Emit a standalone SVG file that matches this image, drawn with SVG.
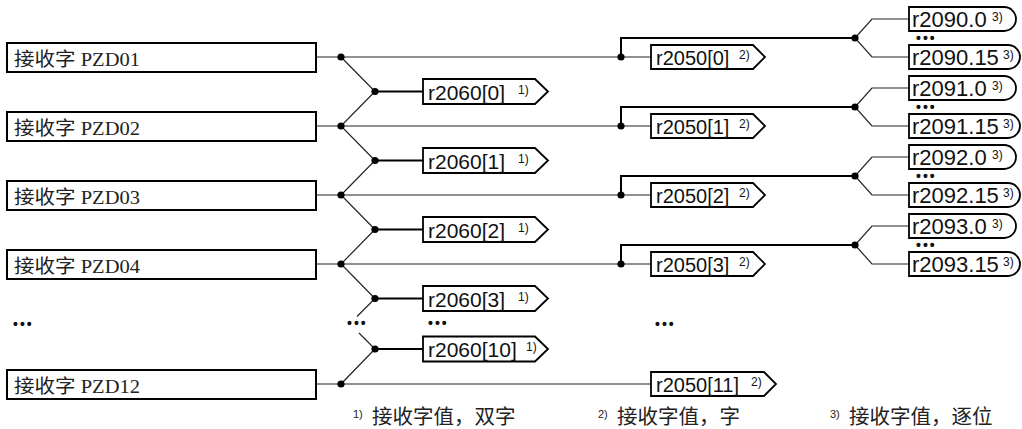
<svg xmlns="http://www.w3.org/2000/svg" width="1022" height="429" viewBox="0 0 1022 429">
<style>
.pzd{fill:#fff;stroke:#000;stroke-width:2}
.pt{font-family:"Liberation Serif","Noto Sans CJK SC",serif;font-size:19px;fill:#222}
.rb{fill:#fff;stroke:#000;stroke-width:1.8}
.rt{font-family:"Liberation Sans",Arial,sans-serif;font-size:21px;fill:#111}
.st{font-family:"Liberation Sans",Arial,sans-serif;font-size:12px;fill:#111}
.thin{fill:none;stroke:#222;stroke-width:1.2}
.thick{fill:none;stroke:#000;stroke-width:2}
.dot{fill:#000}
.el{font-family:"Liberation Sans",Arial,sans-serif;font-size:14px;font-weight:bold;letter-spacing:2px;fill:#111}
.fn{font-family:"Noto Sans CJK SC","Noto Sans",sans-serif;font-size:20.5px;fill:#222}
.fs{font-family:"Liberation Sans",Arial,sans-serif;font-size:11px;fill:#222}
</style>
<g id="connectors">
<path class="thin" d="M316,57 H651 M316,126 H651 M316,195 H651 M316,264 H651 M316,384 H651"/>
<path class="thin" d="M341,57 L375,91.5 L341,126 L375,160.5 L341,195 L375,229.5 L341,264 L375,298.5 L357,316.5 M359,333 L375,349 L341,384"/>
<path class="thick" d="M375,91.5 H423 M375,160.5 H423 M375,229.5 H423 M375,298.5 H423 M375,349 H423"/>
<path class="thick" d="M621,57 V38 H855 M621,126 V107 H855 M621,195 V176 H855 M621,264 V245 H855"/>
<path class="thin" d="M909,19 H872 L855,38 L872,57 H909 M909,88 H872 L855,107 L872,126 H909 M909,157 H872 L855,176 L872,195 H909 M909,226 H872 L855,245 L872,264 H909"/>
<g class="dot">
<circle cx="341" cy="57" r="3.6"/><circle cx="341" cy="126" r="3.6"/><circle cx="341" cy="195" r="3.6"/><circle cx="341" cy="264" r="3.6"/><circle cx="341" cy="384" r="3.6"/>
<circle cx="375" cy="91.5" r="3.6"/><circle cx="375" cy="160.5" r="3.6"/><circle cx="375" cy="229.5" r="3.6"/><circle cx="375" cy="298.5" r="3.6"/><circle cx="375" cy="349" r="3.6"/>
<circle cx="621" cy="57" r="3.6"/><circle cx="621" cy="126" r="3.6"/><circle cx="621" cy="195" r="3.6"/><circle cx="621" cy="264" r="3.6"/>
<circle cx="855" cy="38" r="3.6"/><circle cx="855" cy="107" r="3.6"/><circle cx="855" cy="176" r="3.6"/><circle cx="855" cy="245" r="3.6"/>
</g>
</g>
<g id="pzd01"><rect class="pzd" x="7" y="43" width="309" height="29"/><text class="pt" x="14" y="65.5" textLength="126" lengthAdjust="spacingAndGlyphs">接收字 PZD01</text></g>
<g id="pzd02"><rect class="pzd" x="7" y="112" width="309" height="29"/><text class="pt" x="14" y="134.5" textLength="126" lengthAdjust="spacingAndGlyphs">接收字 PZD02</text></g>
<g id="pzd03"><rect class="pzd" x="7" y="181" width="309" height="29"/><text class="pt" x="14" y="203.5" textLength="126" lengthAdjust="spacingAndGlyphs">接收字 PZD03</text></g>
<g id="pzd04"><rect class="pzd" x="7" y="250" width="309" height="29"/><text class="pt" x="14" y="272.5" textLength="126" lengthAdjust="spacingAndGlyphs">接收字 PZD04</text></g>
<g id="pzd12"><rect class="pzd" x="7" y="370" width="309" height="29"/><text class="pt" x="14" y="392.5" textLength="126" lengthAdjust="spacingAndGlyphs">接收字 PZD12</text></g>
<g id="r2060_0"><path class="rb" d="M423,79 H535 L548,91.5 L535,104 H423 Z"/><text class="rt" x="428" y="99.5">r2060[0]</text><text class="st" x="518" y="93.5">1)</text></g>
<g id="r2060_1"><path class="rb" d="M423,148 H535 L548,160.5 L535,173 H423 Z"/><text class="rt" x="428" y="168.5">r2060[1]</text><text class="st" x="518" y="162.5">1)</text></g>
<g id="r2060_2"><path class="rb" d="M423,217 H535 L548,229.5 L535,242 H423 Z"/><text class="rt" x="428" y="237.5">r2060[2]</text><text class="st" x="518" y="231.5">1)</text></g>
<g id="r2060_3"><path class="rb" d="M423,286 H535 L548,298.5 L535,311 H423 Z"/><text class="rt" x="428" y="306.5">r2060[3]</text><text class="st" x="518" y="300.5">1)</text></g>
<g id="r2060_10"><path class="rb" d="M423,336.5 H535 L548,349 L535,361.5 H423 Z"/><text class="rt" x="428" y="357">r2060[10]</text><text class="st" x="526" y="351">1)</text></g>
<g id="r2050_0"><path class="rb" d="M651,45 H753 L765,57 L753,69 H651 Z"/><text class="rt" x="656" y="65" style="font-size:20px">r2050[0]</text><text class="st" x="739" y="59">2)</text></g>
<g id="r2050_1"><path class="rb" d="M651,114 H753 L765,126 L753,138 H651 Z"/><text class="rt" x="656" y="134" style="font-size:20px">r2050[1]</text><text class="st" x="739" y="128">2)</text></g>
<g id="r2050_2"><path class="rb" d="M651,183 H753 L765,195 L753,207 H651 Z"/><text class="rt" x="656" y="203" style="font-size:20px">r2050[2]</text><text class="st" x="739" y="197">2)</text></g>
<g id="r2050_3"><path class="rb" d="M651,252 H753 L765,264 L753,276 H651 Z"/><text class="rt" x="656" y="272" style="font-size:20px">r2050[3]</text><text class="st" x="739" y="266">2)</text></g>
<g id="r2050_11"><path class="rb" d="M651,372 H764 L776,384 L764,396 H651 Z"/><text class="rt" x="656" y="392" style="font-size:20px">r2050[11]</text><text class="st" x="751" y="386">2)</text></g>
<g id="r2090_0"><path class="rb" d="M909,7 H1004 A12,12 0 0 1 1004,31 H909 Z"/><text class="rt" x="912" y="27" style="font-size:22px">r2090.0</text><text class="st" x="992" y="21">3)</text></g>
<g id="r2090_15"><path class="rb" d="M909,45 H1008 A12,12 0 0 1 1008,69 H909 Z"/><text class="rt" x="912" y="65" style="font-size:22px">r2090.15</text><text class="st" x="1003" y="59">3)</text></g>
<g id="r2091_0"><path class="rb" d="M909,76 H1004 A12,12 0 0 1 1004,100 H909 Z"/><text class="rt" x="912" y="96" style="font-size:22px">r2091.0</text><text class="st" x="992" y="90">3)</text></g>
<g id="r2091_15"><path class="rb" d="M909,114 H1008 A12,12 0 0 1 1008,138 H909 Z"/><text class="rt" x="912" y="134" style="font-size:22px">r2091.15</text><text class="st" x="1003" y="128">3)</text></g>
<g id="r2092_0"><path class="rb" d="M909,145 H1004 A12,12 0 0 1 1004,169 H909 Z"/><text class="rt" x="912" y="165" style="font-size:22px">r2092.0</text><text class="st" x="992" y="159">3)</text></g>
<g id="r2092_15"><path class="rb" d="M909,183 H1008 A12,12 0 0 1 1008,207 H909 Z"/><text class="rt" x="912" y="203" style="font-size:22px">r2092.15</text><text class="st" x="1003" y="197">3)</text></g>
<g id="r2093_0"><path class="rb" d="M909,214 H1004 A12,12 0 0 1 1004,238 H909 Z"/><text class="rt" x="912" y="234" style="font-size:22px">r2093.0</text><text class="st" x="992" y="228">3)</text></g>
<g id="r2093_15"><path class="rb" d="M909,252 H1008 A12,12 0 0 1 1008,276 H909 Z"/><text class="rt" x="912" y="272" style="font-size:22px">r2093.15</text><text class="st" x="1003" y="266">3)</text></g>
<g id="ellipses">
<text class="el" x="916" y="43">•••</text>
<text class="el" x="916" y="112">•••</text>
<text class="el" x="916" y="181">•••</text>
<text class="el" x="916" y="250">•••</text>
<text class="el" x="13" y="329">•••</text>
<text class="el" x="347" y="328">•••</text>
<text class="el" x="428" y="328">•••</text>
<text class="el" x="655" y="329">•••</text>
</g>
<g id="footnotes">
<text class="fs" x="353" y="418">1)</text><text class="fn" x="372" y="424">接收字值，双字</text>
<text class="fs" x="598" y="418">2)</text><text class="fn" x="617" y="424">接收字值，字</text>
<text class="fs" x="830" y="418">3)</text><text class="fn" x="849" y="424">接收字值，逐位</text>
</g>
</svg>
